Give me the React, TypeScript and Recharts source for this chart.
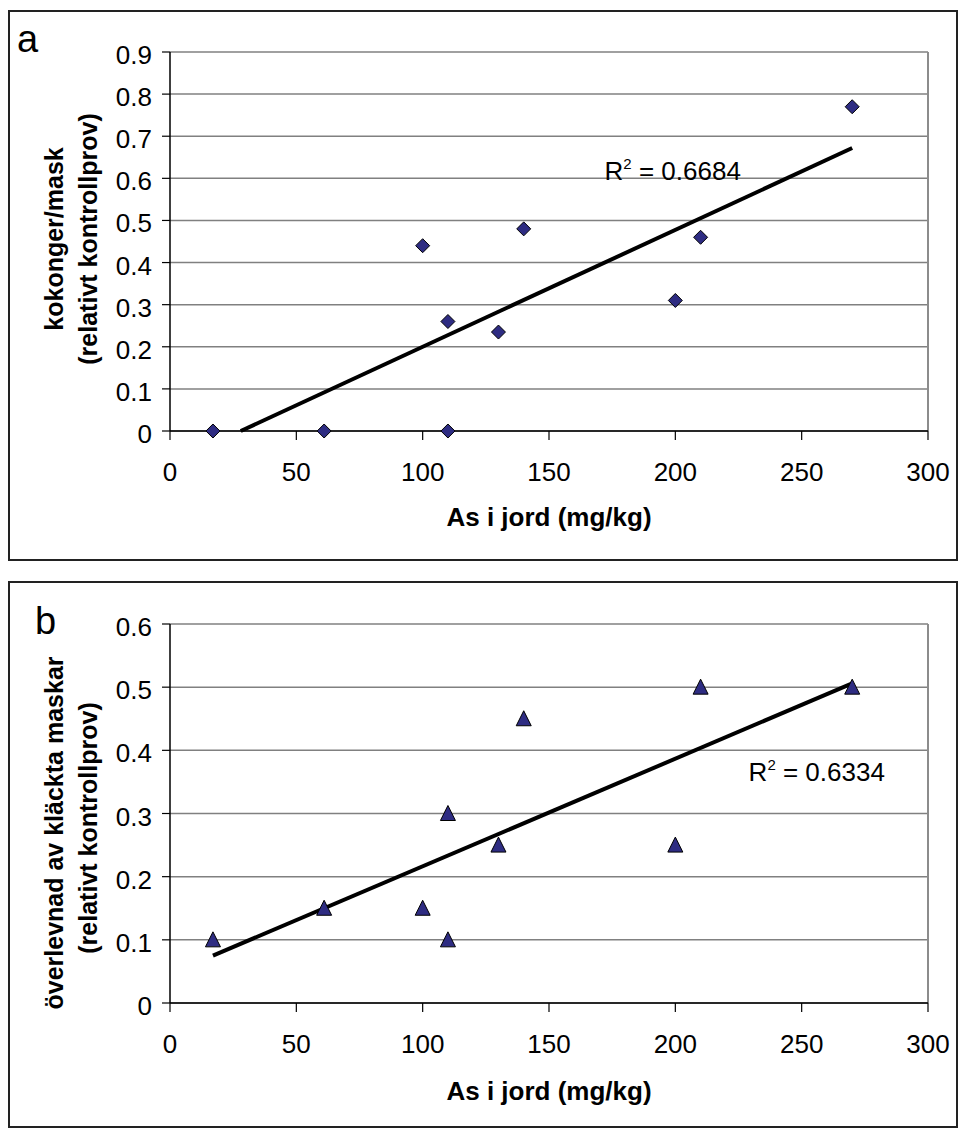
import React from 'react';
import { ScatterChart, Scatter, XAxis, YAxis, CartesianGrid, ReferenceLine, ReferenceDot } from 'recharts';

// As i jord (mg/kg), same samples in both panels
const asJord = [17, 61, 100, 110, 110, 130, 140, 200, 210, 270];
const kokonger = [0, 0, 0.44, 0.26, 0, 0.235, 0.48, 0.31, 0.46, 0.77];
const overlevnad = [0.1, 0.15, 0.15, 0.3, 0.1, 0.25, 0.45, 0.25, 0.5, 0.5];

// trend line ends
const trendA = [{ x: 28, y: 0 }, { x: 270, y: 0.672 }];
const trendB = [{ x: 17, y: 0.075 }, { x: 270, y: 0.506 }];

const r2A = { x: 172, y: 0.596, text: '0.6684' };
const r2B = { x: 229, y: 0.352, text: '0.6334' };

const xTicks = [0, 50, 100, 150, 200, 250, 300];
const yTicksA = [0, 0.1, 0.2, 0.3, 0.4, 0.5, 0.6, 0.7, 0.8, 0.9];
const yTicksB = [0, 0.1, 0.2, 0.3, 0.4, 0.5, 0.6];

const pointsA = asJord.map((x, i) => ({ x, y: kokonger[i] }));
const pointsB = asJord.map((x, i) => ({ x, y: overlevnad[i] }));

const FONT = '"Liberation Sans", Arial, sans-serif';
const MARKER = '#2E2C82';
const FS = 26;

const XTick = (p: any) => (
  <text x={p.x} y={p.y} dy={19} textAnchor="middle" fontSize={FS} fontFamily={FONT} fill="#000">
    {p.payload.value}
  </text>
);

const YTick = (p: any) => (
  <text x={p.x} y={p.y} dy={12} textAnchor="end" fontSize={FS} fontFamily={FONT} fill="#000">
    {p.payload.value}
  </text>
);

const Diamond = (p: any) => {
  const { cx, cy } = p;
  return (
    <polygon
      points={`${cx},${cy - 7} ${cx + 7},${cy} ${cx},${cy + 7} ${cx - 7},${cy}`}
      fill={MARKER}
      stroke="#000"
      strokeWidth={1}
    />
  );
};

const Triangle = (p: any) => {
  const { cx, cy } = p;
  return (
    <polygon
      points={`${cx},${cy - 8} ${cx + 7.5},${cy + 7} ${cx - 7.5},${cy + 7}`}
      fill={MARKER}
      stroke="#000"
      strokeWidth={1}
    />
  );
};

const R2 = (text: string) => (p: any) => (
  <text x={p.cx} y={p.cy} fontSize={FS} fontFamily={FONT} fill="#000">
    R
    <tspan dy={-11} fontSize={15}>2</tspan>
    <tspan dy={11}>{' = ' + text}</tspan>
  </text>
);

const Panel = ({ points, trend, yTicks, yMax, shape, r2 }: any) => (
  <ScatterChart width={958} height={561} margin={{ top: 52, right: 30, left: 0, bottom: 0 }}>
    <CartesianGrid vertical={false} stroke="#808080" strokeWidth={1.5} />
    <XAxis
      type="number"
      dataKey="x"
      domain={[0, 300]}
      ticks={xTicks}
      interval={0}
      height={130}
      tickSize={9}
      tickMargin={22}
      tick={<XTick />}
      axisLine={{ stroke: '#000', strokeWidth: 1.5 }}
      tickLine={{ stroke: '#000', strokeWidth: 1.2 }}
    />
    <YAxis
      type="number"
      dataKey="y"
      domain={[0, yMax]}
      ticks={yTicks}
      interval={0}
      width={170}
      tickSize={8}
      tickMargin={10}
      tick={<YTick />}
      axisLine={{ stroke: '#000', strokeWidth: 1.5 }}
      tickLine={{ stroke: '#000', strokeWidth: 1.2 }}
    />
    <ReferenceLine x={300} stroke="#8c8c8c" strokeWidth={2} />
    <Scatter
      data={trend}
      line={{ stroke: '#000', strokeWidth: 4 }}
      shape={() => <g />}
      isAnimationActive={false}
    />
    <Scatter data={points} shape={shape} isAnimationActive={false} />
    <ReferenceDot x={r2.x} y={r2.y} r={0} shape={R2(r2.text)} />
  </ScatterChart>
);

const titleStyle = { fontFamily: FONT, fontSize: FS, fontWeight: 700, fill: '#000' } as any;
const yTitleStyle = { ...titleStyle, fontSize: 25 };

export default function App() {
  return (
    <div style={{ position: 'fixed', left: 0, top: 0, width: 958, height: 1128, overflow: 'hidden', background: '#fff' }}>
      <div style={{ position: 'absolute', left: 8, top: 10, width: 950, height: 551, border: '2px solid #222', boxSizing: 'border-box' }} />
      <div style={{ position: 'absolute', left: 8, top: 581, width: 950, height: 547, border: '2px solid #222', boxSizing: 'border-box' }} />

      <div style={{ position: 'absolute', left: 0, top: 0 }}>
        <Panel points={pointsA} trend={trendA} yTicks={yTicksA} yMax={0.9} shape={<Diamond />} r2={r2A} />
      </div>
      <div style={{ position: 'absolute', left: 0, top: 572 }}>
        <Panel points={pointsB} trend={trendB} yTicks={yTicksB} yMax={0.6} shape={<Triangle />} r2={r2B} />
      </div>

      <svg width={958} height={1128} style={{ position: 'absolute', left: 0, top: 0, pointerEvents: 'none' }}>
        <text x={17} y={52} fontSize={38} fontFamily={FONT} fill="#000">a</text>
        <text x={35} y={634} fontSize={38} fontFamily={FONT} fill="#000">b</text>

        <text transform="translate(63,239) rotate(-90)" textAnchor="middle" style={yTitleStyle}>kokonger/mask</text>
        <text transform="translate(97,239) rotate(-90)" textAnchor="middle" style={yTitleStyle}>(relativt kontrollprov)</text>
        <text x={549} y={526} textAnchor="middle" style={titleStyle}>As i jord (mg/kg)</text>

        <text transform="translate(63,833) rotate(-90)" textAnchor="middle" style={yTitleStyle}>överlevnad av kläckta maskar</text>
        <text transform="translate(97,828) rotate(-90)" textAnchor="middle" style={yTitleStyle}>(relativt kontrollprov)</text>
        <text x={549} y={1100} textAnchor="middle" style={titleStyle}>As i jord (mg/kg)</text>
      </svg>
    </div>
  );
}
